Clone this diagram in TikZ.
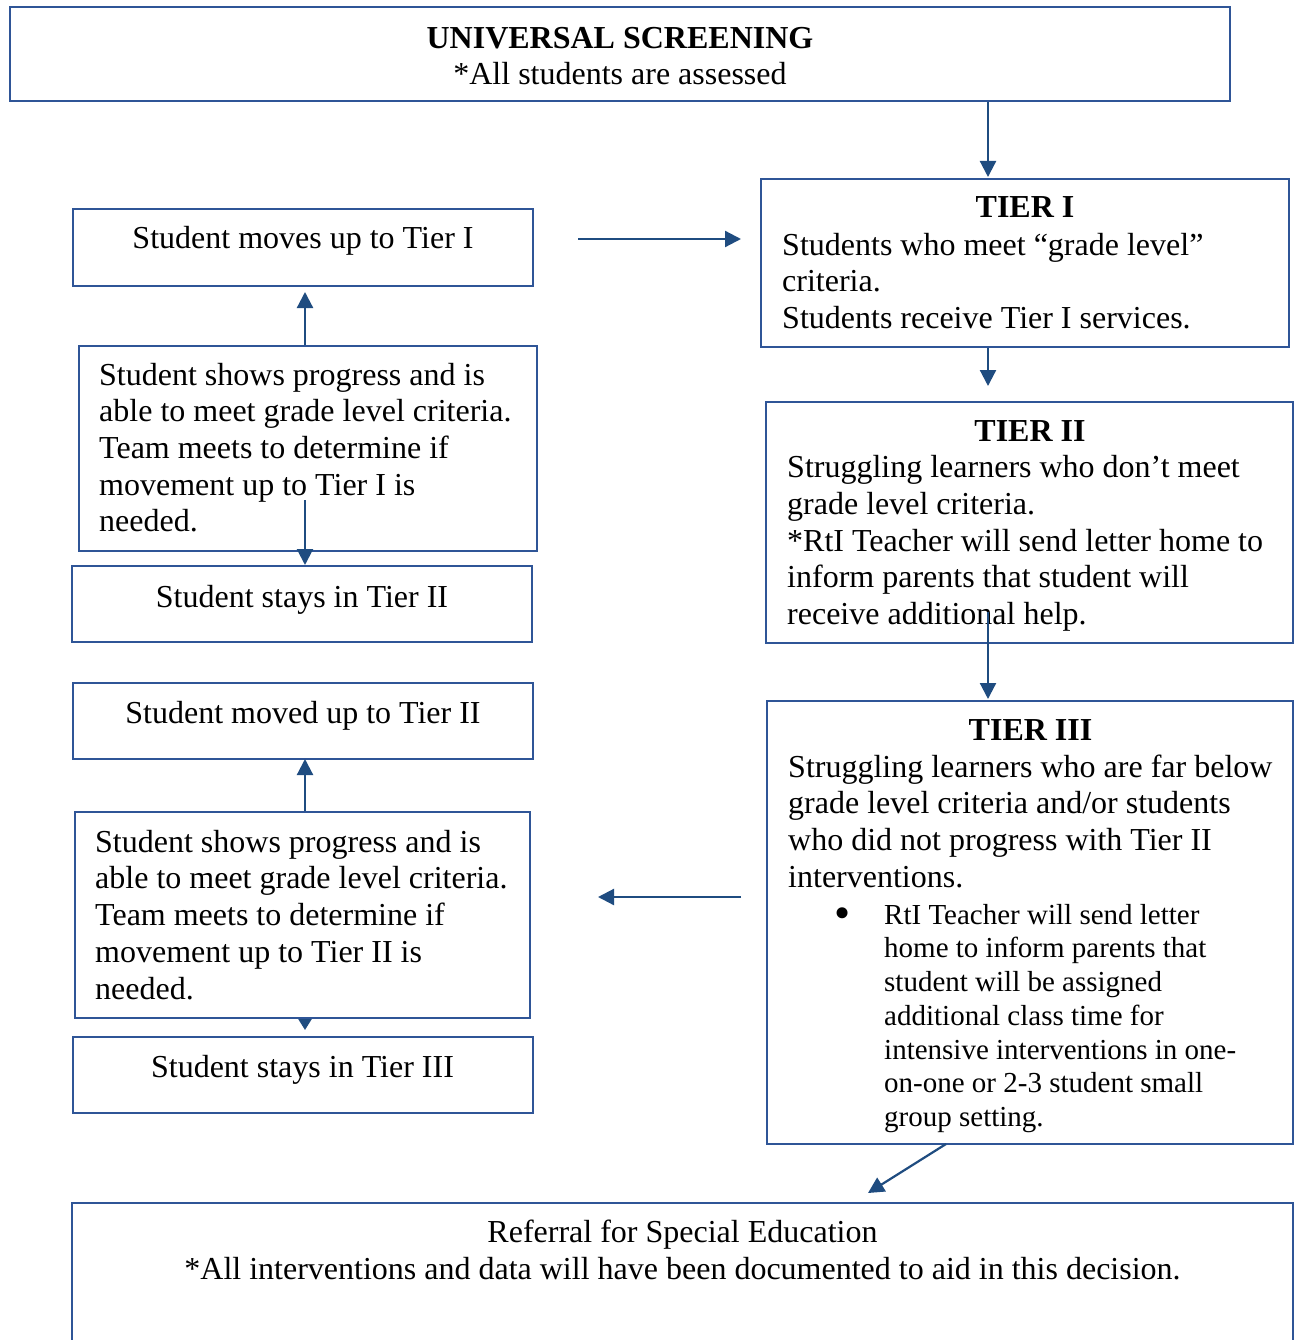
\documentclass[tikz,border=0pt]{standalone}
\usepackage{fontspec}
\setmainfont{Liberation Serif}
\usetikzlibrary{arrows.meta,fit}
\definecolor{boxblue}{RGB}{47,85,151}
\definecolor{arrowblue}{RGB}{31,76,128}
\tikzset{
  box/.style={draw=boxblue, line width=2pt, inner sep=0pt, rectangle},
  arr/.style={draw=arrowblue, line width=2.2pt, -{Triangle[length=16pt,width=16pt]}},
  smallarr/.style={draw=arrowblue, line width=2.2pt, -{Triangle[length=11pt,width=13pt]}},
  txt/.style={inner sep=0pt, font=\fontsize{32}{36.7}\selectfont},
  bodytxt/.style={txt, align=left, anchor=north west},
  titletxt/.style={txt, font=\fontsize{32}{36.7}\selectfont\bfseries, anchor=base},
  linetxt/.style={txt, anchor=base},
  bullettxt/.style={inner sep=0pt, font=\fontsize{29}{33.7}\selectfont, align=left, anchor=north west}
}
\begin{document}
\begin{tikzpicture}[x=1pt,y=-1pt]
\clip (0,0) rectangle (1294,1340);
\fill[white] (0,0) rectangle (1294,1340);

% boxes
\node[box, fit={(10,7) (1230,101)}] (univ) {};
\node[box, fit={(761,179) (1289,347)}] (tier1) {};
\node[box, fit={(73,209) (533,286)}] (moveup1) {};
\node[box, fit={(79,346) (537,551)}] (prog1) {};
\node[box, fit={(72,566) (532,642)}] (stay2) {};
\node[box, fit={(766,402) (1293,643)}] (tier2) {};
\node[box, fit={(73,683) (533,759)}] (moveup2) {};
\node[box, fit={(75,812) (530,1018)}] (prog2) {};
\node[box, fit={(73,1037) (533,1113)}] (stay3) {};
\node[box, fit={(767,701) (1293,1144)}] (tier3) {};
\node[box, fit={(72,1203) (1293,1400)}] (refer) {};

% texts
\node[txt, align=center, anchor=north] (univtxt) at (620,22.3)
  {\strut\textbf{UNIVERSAL SCREENING}\\*All students are assessed};

\node[titletxt] (t1title) at (1025,218) {TIER I};
\node[bodytxt] (t1body) at (782,229.3)
  {\strut Students who meet “grade level”\\criteria.\\Students receive Tier I services.};

\node[titletxt] (t2title) at (1030,441) {TIER II};
\node[bodytxt] (t2body) at (787,451.8)
  {\strut Struggling learners who don’t meet\\grade level criteria.\\*RtI Teacher will send letter home to\\inform parents that student will\\receive additional help.};

\node[titletxt] (t3title) at (1030.5,740) {TIER III};
\node[bodytxt] (t3body) at (788,751.3)
  {\strut Struggling learners who are far below\\grade level criteria and/or students\\who did not progress with Tier II\\interventions.};
\node[inner sep=0pt, font=\fontsize{46}{50}\selectfont, anchor=base] (t3bullet) at (843,928) {•};
\node[bullettxt] (t3list) at (884,900.4)
  {\strut RtI Teacher will send letter\\home to inform parents that\\student will be assigned\\additional class time for\\intensive interventions in one-\\on-one or 2-3 student small\\group setting.};

\node[linetxt] (moveup1txt) at (303,249) {Student moves up to Tier I};
\node[bodytxt] (prog1txt) at (99,359.3)
  {\strut Student shows progress and is\\able to meet grade level criteria.\\Team meets to determine if\\movement up to Tier I is\\needed.};
\node[linetxt] (stay2txt) at (302,607) {Student stays in Tier II};

\node[linetxt] (moveup2txt) at (303,723) {Student moved up to Tier II};
\node[bodytxt] (prog2txt) at (95,826.3)
  {\strut Student shows progress and is\\able to meet grade level criteria.\\Team meets to determine if\\movement up to Tier II is\\needed.};
\node[linetxt] (stay3txt) at (302.5,1077) {Student stays in Tier III};

\node[inner sep=0pt, font=\fontsize{32}{37.5}\selectfont, align=center, anchor=north] (refertxt) at (682.5,1215.8)
  {\strut Referral for Special Education\\*All interventions and data will have been documented to aid in this decision.};

% connector end points
\coordinate (tipA) at (988,177);
\coordinate (hStart) at (578,239);
\coordinate (tipB) at (741,239);
\coordinate (tipC) at (988,386);
\coordinate (startD) at (988,612);
\coordinate (tipD) at (988,699);
\coordinate (tipE) at (305,292);
\coordinate (startF) at (305,500);
\coordinate (tipF) at (305,565);
\coordinate (tipG) at (305,759);
\coordinate (tipH) at (305,1030);
\coordinate (hStart2) at (741,897);
\coordinate (tipI) at (598,897);
\coordinate (diagStart) at (946,1144);
\coordinate (tipJ) at (868,1193);

% connectors
\draw[arr] (univ.south -| tipA) -- (tipA);
\draw[arr] (hStart) -- (tipB);
\draw[arr] (tier1.south -| tipC) -- (tipC);
\draw[arr] (startD) -- (tipD);
\draw[arr] (prog1.north -| tipE) -- (tipE);
\draw[arr] (startF) -- (tipF);
\draw[arr] (prog2.north -| tipG) -- (tipG);
\draw[smallarr] (prog2.south -| tipH) -- (tipH);
\draw[arr] (hStart2) -- (tipI);
\draw[arr] (diagStart) -- (tipJ);
\end{tikzpicture}
\end{document}
